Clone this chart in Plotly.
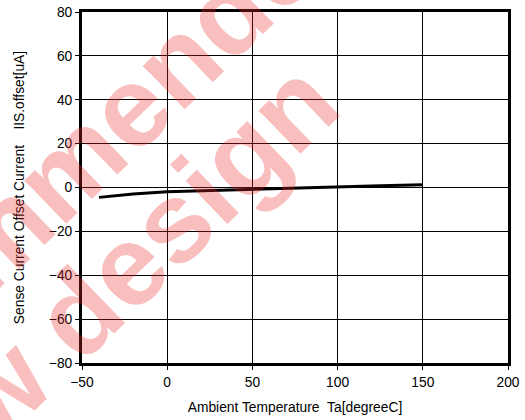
import plotly.graph_objects as go

# Data
temperature_c = [-40, -20, 0, 25, 50, 75, 100, 125, 150]
offset_current_ua = [-4.5, -3.0, -1.9, -1.3, -0.7, -0.2, 0.3, 0.8, 1.3]

x_ticks = [-50, 0, 50, 100, 150, 200]
y_ticks = [-80, -60, -40, -20, 0, 20, 40, 60, 80]

watermark_lines = ["Not recommended", "for new design"]

FONT = "Liberation Sans, Arial, sans-serif"
FS = 13.8

fig = go.Figure()
fig.add_trace(go.Scatter(
    x=temperature_c, y=offset_current_ua, mode="lines",
    line=dict(color="black", width=3), showlegend=False, hoverinfo="skip",
))

axis_common = dict(
    showgrid=True, gridcolor="black", gridwidth=1,
    showline=True, linecolor="black", linewidth=3, mirror=True,
    ticks="outside", ticklen=4, tickcolor="black", tickwidth=1,
    zeroline=False, automargin=False, ticklabeloverflow="allow",
    tickfont=dict(family=FONT, size=FS, color="black"),
)

fig.update_xaxes(
    range=[-50, 200], tickvals=x_ticks,
    title=dict(text="Ambient Temperature&nbsp;&nbsp;Ta[degreeC]",
               font=dict(family=FONT, size=FS, color="black"), standoff=14),
    **axis_common,
)
fig.update_yaxes(
    range=[-80, 80], tickvals=y_ticks,
    title=dict(text="Sense Current Offset Current" + "&nbsp;" * 4 + "IIS.offset[uA]",
               font=dict(family=FONT, size=FS, color="black"), standoff=22),
    **axis_common,
)

wm_pos = [(-0.2207, 0.3376), (-0.1256, 0.003)]
for txt, (xp, yp) in zip(watermark_lines, wm_pos):
    fig.add_annotation(
        text=txt, xref="paper", yref="paper", x=xp, y=yp,
        xanchor="center", yanchor="middle", showarrow=False,
        textangle=-44,
        font=dict(family=FONT, size=114, color="rgba(235,40,40,0.3)", weight="bold"),
    )

fig.update_layout(
    width=525, height=420,
    margin=dict(l=82, r=17, t=12, b=57),
    paper_bgcolor="white", plot_bgcolor="white",
    font=dict(family=FONT, size=FS, color="black"),
)

fig.write_html("out.html", config={"displayModeBar": False},
               post_script="document.body.style.margin='0';")
